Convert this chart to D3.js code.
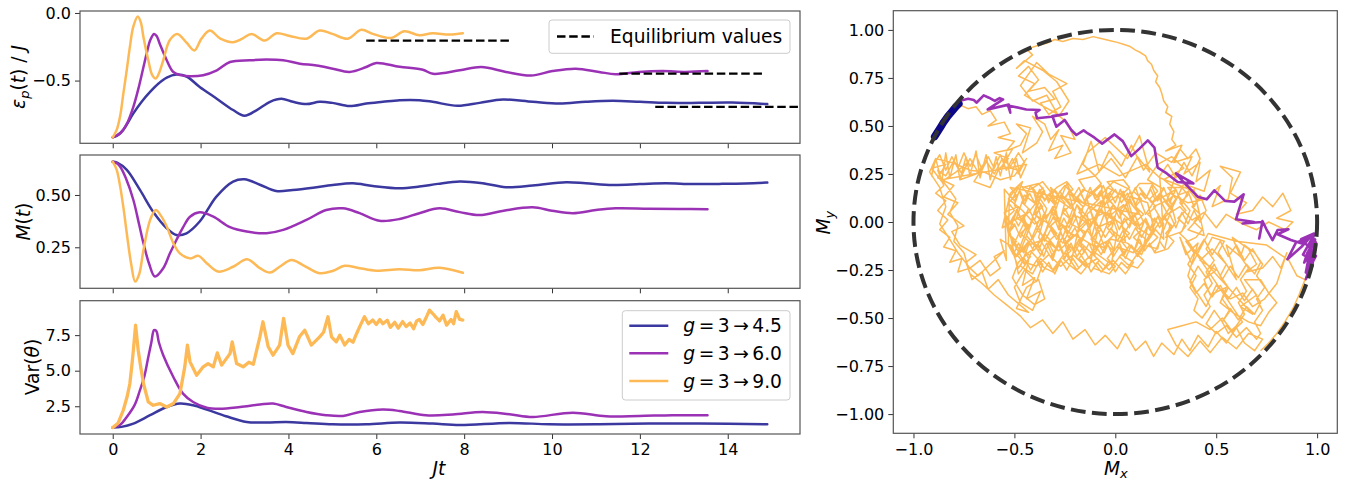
<!DOCTYPE html>
<html>
<head>
<meta charset="utf-8">
<script src="https://cdn.jsdelivr.net/npm/d3@7"></script>
<style>
  body { margin: 0; background: #fff; }
  text { font-family: "DejaVu Sans", sans-serif; fill: #000; }
</style>
</head>
<body>
<svg id="chart" width="1358" height="481"></svg>
<script>
// ---- data ----
const quenchLabels = ["4.5", "6.0", "9.0"];
const colours = ["#3b38a0", "#9b32b6", "#fdb955"];

// [Jt, eps_p/J]
const epsBlue = [[0,-0.92],[0.09,-0.91],[0.24,-0.865],[0.47,-0.743],[0.65,-0.66],[0.85,-0.584],[1.05,-0.52],[1.23,-0.478],[1.45,-0.456],[1.68,-0.47],[1.98,-0.547],[2.36,-0.632],[2.74,-0.718],[3.0,-0.76],[3.27,-0.72],[3.58,-0.657],[3.84,-0.635],[4.1,-0.657],[4.41,-0.674],[4.71,-0.657],[5.0,-0.665],[5.39,-0.689],[5.77,-0.67],[6.15,-0.657],[6.53,-0.645],[6.98,-0.645],[7.28,-0.657],[7.85,-0.687],[8.35,-0.665],[8.88,-0.64],[9.56,-0.657],[10.17,-0.67],[10.77,-0.657],[11.38,-0.65],[12.0,-0.657],[12.59,-0.665],[13.35,-0.665],[14.1,-0.663],[14.9,-0.674]];
const epsPurple = [[0,-0.92],[0.17,-0.89],[0.32,-0.82],[0.47,-0.694],[0.6,-0.54],[0.7,-0.40],[0.78,-0.29],[0.85,-0.204],[0.94,-0.155],[1.0,-0.17],[1.07,-0.228],[1.15,-0.29],[1.23,-0.35],[1.38,-0.437],[1.55,-0.46],[1.76,-0.468],[2.06,-0.46],[2.37,-0.424],[2.67,-0.363],[3.12,-0.35],[3.5,-0.345],[3.88,-0.35],[4.26,-0.375],[4.64,-0.388],[5.01,-0.412],[5.39,-0.436],[5.77,-0.40],[6.0,-0.37],[6.53,-0.398],[7.06,-0.42],[7.29,-0.45],[7.9,-0.424],[8.39,-0.40],[8.95,-0.436],[9.52,-0.463],[10.01,-0.43],[10.54,-0.412],[11.07,-0.436],[11.45,-0.453],[11.98,-0.436],[12.51,-0.43],[13.05,-0.436],[13.54,-0.43]];
const epsOrange = [[0,-0.92],[0.09,-0.865],[0.17,-0.76],[0.24,-0.6],[0.32,-0.42],[0.39,-0.253],[0.47,-0.10],[0.57,-0.027],[0.64,-0.07],[0.7,-0.18],[0.81,-0.35],[0.9,-0.46],[0.98,-0.485],[1.06,-0.44],[1.15,-0.35],[1.3,-0.2],[1.47,-0.155],[1.68,-0.22],[1.86,-0.277],[2.02,-0.19],[2.21,-0.13],[2.45,-0.19],[2.74,-0.216],[2.95,-0.19],[3.16,-0.155],[3.46,-0.204],[3.73,-0.15],[4.03,-0.17],[4.41,-0.19],[4.71,-0.13],[5.0,-0.155],[5.35,-0.19],[5.66,-0.125],[5.92,-0.155],[6.34,-0.185],[6.64,-0.135],[6.98,-0.165],[7.28,-0.15],[7.66,-0.16],[7.97,-0.15]];

// equilibrium values: [value, Jt start, Jt end]
const equilibrium = [[-0.694, 12.35, 16.0], [-0.449, 11.53, 14.79], [-0.204, 5.77, 9.07]];

// [Jt, M]
const magBlue = [[0,0.659],[0.1,0.655],[0.32,0.62],[0.62,0.524],[0.92,0.42],[1.23,0.341],[1.45,0.309],[1.68,0.317],[1.98,0.373],[2.36,0.492],[2.74,0.564],[3.0,0.575],[3.35,0.549],[3.72,0.519],[4.1,0.524],[4.56,0.535],[5.01,0.548],[5.47,0.556],[5.92,0.543],[6.53,0.532],[6.98,0.54],[7.4,0.553],[7.9,0.564],[8.42,0.556],[8.95,0.537],[9.56,0.545],[10.32,0.561],[10.77,0.556],[11.38,0.548],[12.0,0.552],[12.59,0.556],[13.2,0.552],[13.8,0.553],[14.4,0.555],[14.9,0.559]];
const magPurple = [[0,0.659],[0.1,0.65],[0.17,0.635],[0.3,0.58],[0.47,0.476],[0.6,0.36],[0.7,0.269],[0.83,0.17],[0.96,0.11],[1.15,0.15],[1.3,0.22],[1.45,0.285],[1.6,0.345],[1.76,0.396],[1.98,0.417],[2.29,0.396],[2.67,0.346],[3.05,0.325],[3.5,0.317],[3.88,0.333],[4.41,0.381],[4.86,0.428],[5.24,0.436],[5.62,0.413],[6.07,0.377],[6.53,0.385],[6.98,0.413],[7.44,0.436],[7.9,0.418],[8.35,0.404],[8.9,0.425],[9.56,0.441],[10.0,0.425],[10.47,0.413],[11.0,0.428],[11.45,0.436],[12.2,0.434],[12.9,0.433],[13.54,0.432]];
const magOrange = [[0,0.659],[0.09,0.62],[0.17,0.54],[0.25,0.43],[0.32,0.317],[0.42,0.17],[0.51,0.086],[0.6,0.12],[0.7,0.237],[0.85,0.38],[0.98,0.428],[1.1,0.40],[1.23,0.349],[1.38,0.27],[1.53,0.221],[1.76,0.197],[1.95,0.209],[2.14,0.174],[2.4,0.134],[2.74,0.157],[3.06,0.193],[3.35,0.15],[3.58,0.129],[3.8,0.157],[4.07,0.189],[4.33,0.165],[4.71,0.126],[5.02,0.138],[5.28,0.162],[5.62,0.15],[6.0,0.138],[6.53,0.145],[6.98,0.14],[7.44,0.152],[7.97,0.128]];

// [Jt, Var(theta)]
const varBlue = [[0,1.0],[0.2,1.05],[0.47,1.28],[0.85,1.87],[1.23,2.45],[1.53,2.69],[1.83,2.57],[2.14,2.27],[2.58,1.8],[3.05,1.39],[3.5,1.36],[3.95,1.39],[4.41,1.33],[5.0,1.23],[5.77,1.23],[6.53,1.36],[7.28,1.28],[7.9,1.18],[9.03,1.33],[9.94,1.23],[11.07,1.23],[12.2,1.28],[13.35,1.28],[14.9,1.23]];
const varPurple = [[0,1.0],[0.17,1.2],[0.32,1.75],[0.5,2.6],[0.62,3.63],[0.72,4.6],[0.81,5.97],[0.88,7.0],[0.94,7.85],[0.99,7.8],[1.05,7.0],[1.15,6.09],[1.38,4.56],[1.6,3.39],[1.83,2.8],[2.14,2.4],[2.44,2.33],[2.9,2.45],[3.35,2.62],[3.65,2.69],[3.95,2.45],[4.41,2.1],[4.86,1.87],[5.24,1.82],[5.62,2.1],[6.15,2.27],[6.53,2.17],[7.13,1.87],[7.74,1.92],[8.42,2.1],[9.03,1.94],[9.56,1.75],[10.47,2.05],[11.23,1.8],[11.98,1.82],[12.74,1.87],[13.54,1.87]];
const varOrange = [[0,1.0],[0.12,1.3],[0.24,2.22],[0.33,3.2],[0.39,4.1],[0.44,5.5],[0.47,6.44],[0.52,8.2],[0.58,6.44],[0.64,5.2],[0.7,4.1],[0.81,2.8],[0.92,2.57],[1.07,2.69],[1.23,2.45],[1.38,2.69],[1.53,3.39],[1.64,5.27],[1.7,6.8],[1.76,5.62],[1.91,4.68],[2.06,5.27],[2.17,5.5],[2.29,5.27],[2.38,6.25],[2.48,5.39],[2.67,6.2],[2.72,7.03],[2.82,5.5],[2.97,5.27],[3.1,5.6],[3.2,5.45],[3.35,7.38],[3.42,8.44],[3.54,6.68],[3.65,6.09],[3.8,6.8],[3.89,8.68],[3.99,6.8],[4.1,6.2],[4.25,7.38],[4.37,7.85],[4.45,7.3],[4.52,6.8],[4.62,7.1],[4.71,7.38],[4.8,7.7],[4.9,8.79],[4.98,7.38],[5.09,7.03],[5.17,7.5],[5.28,6.8],[5.38,7.2],[5.47,7.0],[5.55,7.6],[5.62,8.08],[5.73,8.79],[5.82,8.3],[5.92,8.56],[6.0,8.25],[6.08,8.6],[6.15,8.3],[6.25,8.55],[6.32,8.05],[6.42,8.4],[6.5,8.0],[6.6,8.45],[6.68,8.1],[6.77,8.35],[6.85,7.95],[6.92,8.5],[6.98,8.6],[7.06,8.25],[7.13,8.7],[7.21,9.26],[7.29,9.0],[7.36,8.75],[7.44,8.5],[7.52,8.9],[7.6,8.2],[7.7,8.6],[7.76,8.3],[7.82,9.15],[7.9,8.6],[7.97,8.56]];

// right panel: [Mx, My]
const trajBlue = [[-0.895,0.445],[-0.88,0.47],[-0.865,0.495],[-0.85,0.52],[-0.83,0.55],[-0.81,0.575],[-0.79,0.60],[-0.775,0.615]];
const trajPurple = [[-0.774,0.63],[-0.729,0.642],[-0.701,0.635],[-0.688,0.621],[-0.652,0.659],[-0.626,0.647],[-0.597,0.63],[-0.573,0.645],[-0.556,0.638],[-0.632,0.586],[-0.528,0.611],[-0.52,0.569],[-0.532,0.607],[-0.441,0.586],[-0.375,0.583],[-0.395,0.569],[-0.388,0.54],[-0.317,0.548],[-0.24,0.564],[-0.312,0.552],[-0.292,0.496],[-0.251,0.531],[-0.218,0.479],[-0.193,0.453],[-0.157,0.477],[-0.136,0.461],[-0.103,0.439],[-0.065,0.408],[-0.004,0.456],[0.037,0.421],[0.079,0.343],[0.12,0.382],[0.161,0.425],[0.194,0.387],[0.21,0.283],[0.255,0.253],[0.309,0.208],[0.387,0.201],[0.301,0.253],[0.334,0.213],[0.408,0.132],[0.453,0.118],[0.491,0.165],[0.545,0.109],[0.59,0.106],[0.636,0.144],[0.598,0.014],[0.688,0.0],[0.631,-0.008],[0.729,0.0],[0.713,-0.086],[0.729,0.005],[0.749,-0.038],[0.779,-0.094],[0.804,-0.042],[0.858,-0.038],[0.804,-0.064],[0.87,-0.094],[0.936,-0.116],[0.96,-0.086],[0.895,-0.107],[0.853,-0.194],[0.927,-0.125],[0.969,-0.073],[0.994,-0.107],[0.957,-0.151],[0.99,-0.09],[0.977,-0.229],[0.944,-0.298],[0.96,-0.246],[0.994,-0.177],[0.952,-0.159],[0.936,-0.211],[0.994,-0.125],[0.944,-0.263],[0.977,-0.081],[0.93,-0.17],[0.98,-0.20],[0.95,-0.28],[0.97,-0.14],[0.92,-0.09],[0.985,-0.06],[0.96,-0.19]];

const orangeStart = [[-0.77,0.61],[-0.73,0.59],[-0.69,0.60],[-0.66,0.56],[-0.62,0.58],[-0.59,0.53],[-0.63,0.50],[-0.55,0.52],[-0.52,0.46],[-0.58,0.44],[-0.50,0.42],[-0.54,0.37],[-0.47,0.40],[-0.44,0.46],[-0.49,0.51],[-0.42,0.49],[-0.46,0.36],[-0.39,0.41],[-0.36,0.47],[-0.41,0.55],[-0.35,0.51],[-0.32,0.43],[-0.28,0.48],[-0.33,0.37],[-0.26,0.40],[-0.30,0.33],[-0.22,0.36],[-0.27,0.45],[-0.20,0.43],[-0.24,0.52],[-0.30,0.57]];
const orangeLoop = [[-0.37,0.61],[-0.45,0.66],[-0.40,0.72],[-0.48,0.76],[-0.43,0.81],[-0.38,0.74],[-0.43,0.68],[-0.35,0.70],[-0.30,0.64],[-0.37,0.62],[-0.33,0.56],[-0.27,0.60],[-0.31,0.68],[-0.24,0.72],[-0.33,0.77],[-0.39,0.83],[-0.43,0.77],[-0.47,0.71],[-0.41,0.63],[-0.34,0.66],[-0.28,0.55],[-0.23,0.63],[-0.29,0.73],[-0.36,0.79],[-0.45,0.84],[-0.49,0.80],[-0.41,0.87],[-0.44,0.90],[-0.38,0.92],[-0.34,0.93],[-0.30,0.95],[-0.26,0.94],[-0.21,0.955],[-0.16,0.95],[-0.11,0.965],[-0.07,0.955],[-0.03,0.945],[0.01,0.935],[0.04,0.925],[0.07,0.915],[0.10,0.895],[0.12,0.885],[0.15,0.865],[0.16,0.84],[0.18,0.82],[0.19,0.79],[0.21,0.76],[0.20,0.73],[0.22,0.70],[0.23,0.67],[0.24,0.63],[0.26,0.60],[0.25,0.57],[0.28,0.55],[0.27,0.51],[0.29,0.47],[0.28,0.43],[0.30,0.40]];
const orangeRight = [[0.25,0.37],[0.33,0.40],[0.29,0.31],[0.38,0.34],[0.34,0.25],[0.42,0.31],[0.40,0.21],[0.47,0.27],[0.44,0.16],[0.36,0.19],[0.30,0.25],[0.27,0.15],[0.36,0.10],[0.45,0.12],[0.52,0.19],[0.48,0.08],[0.56,0.12],[0.58,0.23],[0.52,0.29],[0.62,0.26],[0.57,0.15],[0.65,0.10],[0.60,0.04],[0.68,0.06],[0.73,0.13],[0.78,0.08],[0.83,0.15],[0.87,0.06],[0.80,0.02],[0.88,0.00],[0.84,-0.04],[0.76,0.00],[0.70,-0.04],[0.63,-0.01],[0.55,0.04],[0.50,-0.03],[0.44,0.05],[0.38,0.01],[0.32,0.08],[0.26,0.04],[0.22,0.12],[0.30,0.17],[0.24,0.22],[0.34,0.28],[0.28,0.34],[0.21,0.30],[0.16,0.22],[0.24,0.17],[0.18,0.10]];
const orangeRight2 = [[0.12,0.18],[0.15,0.12],[0.18,0.19],[0.21,0.11],[0.24,0.18],[0.27,0.10],[0.30,0.17],[0.33,0.09],[0.36,0.16],[0.39,0.08],[0.42,0.14],[0.45,0.06],[0.42,0.00],[0.39,0.06],[0.36,-0.01],[0.33,0.05],[0.30,-0.03],[0.27,0.04],[0.24,-0.04],[0.21,0.03],[0.18,-0.05],[0.15,0.02],[0.12,-0.06],[0.16,-0.10],[0.20,-0.04],[0.24,-0.09],[0.22,0.24],[0.26,0.30],[0.30,0.23],[0.34,0.31],[0.38,0.24],[0.42,0.33],[0.40,0.38],[0.36,0.33],[0.32,0.38],[0.28,0.31]];
const orangeUpper = [[0.20,0.36],[0.14,0.27],[0.08,0.40],[0.03,0.29],[-0.03,0.37],[-0.08,0.26],[-0.12,0.42],[-0.16,0.30],[-0.10,0.24],[-0.02,0.33],[0.05,0.23],[0.11,0.34],[0.17,0.26],[0.12,0.45],[0.06,0.33],[-0.05,0.44],[-0.14,0.36],[-0.19,0.25],[-0.08,0.30],[0.02,0.24],[0.15,0.30],[0.22,0.23]];
const orangeColumns = [[0.39,0.16],[0.42,0.12],[0.38,0.08],[0.42,0.04],[0.39,0.00],[0.43,-0.04],[0.40,-0.08],[0.36,-0.10],[0.32,-0.06],[0.35,-0.02],[0.31,0.02],[0.35,0.06],[0.32,0.10],[0.36,0.14],[0.33,0.18],[0.26,0.18],[0.29,0.14],[0.25,0.10],[0.28,0.06],[0.24,0.02],[0.28,-0.02],[0.25,-0.06],[0.29,-0.10],[0.26,-0.14],[0.20,-0.16],[0.17,-0.12],[0.21,-0.08],[0.17,-0.04],[0.20,0.00],[0.16,0.04],[0.20,0.08],[0.17,0.12],[0.21,0.16],[0.18,0.20],[0.12,0.20],[0.09,0.16],[0.13,0.12],[0.10,0.08],[0.14,0.04],[0.10,0.00],[0.13,-0.04],[0.09,-0.08],[0.13,-0.12],[0.10,-0.16],[0.14,-0.20],[0.11,-0.24],[0.06,-0.22],[0.02,-0.18],[0.06,-0.14],[0.03,-0.10],[0.07,-0.06],[0.03,-0.02],[0.06,0.02],[0.02,0.06],[0.06,0.10],[0.03,0.14],[0.07,0.18],[0.04,0.22],[-0.04,0.21],[-0.01,0.17],[-0.05,0.13],[-0.01,0.09],[-0.04,0.05],[0.00,0.01],[-0.04,-0.03],[-0.01,-0.07],[-0.05,-0.11],[-0.01,-0.15],[-0.04,-0.19],[0.00,-0.23],[-0.03,-0.27],[-0.11,-0.24],[-0.08,-0.20],[-0.12,-0.16],[-0.08,-0.12],[-0.11,-0.08],[-0.07,-0.04],[-0.11,0.00],[-0.08,0.04],[-0.12,0.08],[-0.08,0.12],[-0.11,0.16],[-0.07,0.20],[-0.10,0.24],[-0.18,0.22],[-0.15,0.17],[-0.19,0.13],[-0.15,0.09],[-0.18,0.05],[-0.14,0.01],[-0.18,-0.03],[-0.15,-0.07],[-0.19,-0.11],[-0.15,-0.15],[-0.18,-0.19],[-0.14,-0.23],[-0.17,-0.27],[-0.22,-0.23],[-0.26,-0.19],[-0.22,-0.15],[-0.25,-0.11],[-0.21,-0.07],[-0.25,-0.03],[-0.22,0.01],[-0.26,0.05],[-0.22,0.09],[-0.25,0.13],[-0.21,0.17],[-0.24,0.21],[-0.29,0.18],[-0.33,0.14],[-0.29,0.10],[-0.32,0.06],[-0.28,0.02],[-0.32,-0.02],[-0.29,-0.06],[-0.33,-0.10],[-0.29,-0.14],[-0.32,-0.18],[-0.28,-0.22],[-0.31,-0.26],[-0.35,-0.24],[-0.39,-0.20],[-0.36,-0.16],[-0.39,-0.12],[-0.35,-0.08],[-0.39,-0.04],[-0.36,0.00],[-0.40,0.04],[-0.36,0.08],[-0.39,0.12],[-0.35,0.16],[-0.38,0.20],[-0.46,0.18],[-0.43,0.14],[-0.46,0.10],[-0.42,0.06],[-0.46,0.02],[-0.43,-0.02],[-0.47,-0.06],[-0.43,-0.10],[-0.46,-0.14],[-0.42,-0.18],[-0.45,-0.22],[-0.48,-0.18],[-0.52,-0.14],[-0.49,-0.10],[-0.53,-0.06],[-0.50,-0.02],[-0.54,0.02],[-0.50,0.06],[-0.53,0.10],[-0.49,0.14],[-0.52,0.18]];
const orangeCentre = [[0.12,0.04],[0.06,0.12],[0.10,-0.02],[0.02,0.06],[0.05,-0.10],[-0.02,-0.04],[0.03,0.14],[-0.04,0.18],[-0.07,0.06],[-0.01,0.01],[-0.09,-0.03],[-0.05,-0.14],[-0.12,-0.09],[-0.07,0.11],[-0.14,0.04],[-0.10,-0.18],[-0.17,-0.11],[-0.12,0.00],[-0.19,0.09],[-0.22,-0.01],[-0.15,-0.05],[-0.20,-0.16],[-0.26,-0.08],[-0.21,0.07],[-0.27,0.14],[-0.31,0.02],[-0.24,-0.03],[-0.29,-0.14],[-0.35,-0.06],[-0.30,0.09],[-0.36,0.16],[-0.40,0.04],[-0.33,-0.01],[-0.38,-0.15],[-0.44,-0.07],[-0.39,0.09],[-0.45,0.14],[-0.49,0.02],[-0.42,-0.02],[-0.47,-0.15],[-0.53,-0.06],[-0.48,0.08],[-0.55,0.05],[-0.51,-0.10],[-0.45,-0.21],[-0.39,-0.23],[-0.33,-0.17],[-0.27,-0.23],[-0.21,-0.17],[-0.15,-0.23],[-0.09,-0.19],[-0.03,-0.25],[0.03,-0.17],[0.09,-0.21],[0.05,-0.27],[-0.01,-0.20],[-0.07,-0.26],[-0.13,-0.18],[-0.19,-0.25],[-0.25,-0.16],[-0.31,-0.25],[-0.37,-0.19],[-0.41,-0.27],[-0.47,-0.23],[-0.43,-0.12],[-0.35,-0.09],[-0.28,-0.15],[-0.20,-0.07],[-0.13,0.01],[-0.05,0.05],[0.03,-0.01],[0.11,0.05],[0.07,0.17],[-0.01,0.21],[-0.08,0.13],[-0.16,0.17],[-0.22,0.07],[-0.30,0.13],[-0.36,0.21],[-0.42,0.17],[-0.48,0.19],[-0.53,0.12],[-0.46,0.06],[-0.40,-0.01],[-0.32,0.05],[-0.24,-0.05],[-0.16,-0.09],[-0.10,-0.13],[-0.02,-0.09],[0.06,-0.11],[0.13,-0.17],[0.17,-0.07],[0.11,-0.03],[0.04,0.09],[-0.03,0.03],[-0.11,0.07],[-0.18,0.11],[-0.25,0.19],[-0.31,0.11],[-0.37,0.13],[-0.43,0.05],[-0.50,0.01],[-0.56,-0.03],[-0.52,0.15],[-0.46,0.21],[-0.50,0.09],[-0.44,-0.04],[-0.49,-0.18],[-0.42,-0.10],[-0.37,0.03],[-0.41,0.18],[-0.34,0.07],[-0.38,-0.08],[-0.31,-0.20],[-0.27,-0.05],[-0.32,0.18],[-0.25,0.10],[-0.28,-0.02],[-0.22,-0.21],[-0.18,-0.03],[-0.23,0.15],[-0.16,0.08],[-0.20,-0.12],[-0.13,-0.24],[-0.09,-0.06],[-0.14,0.12],[-0.07,0.19],[-0.04,-0.01],[-0.10,-0.16],[-0.02,-0.22],[0.01,-0.05],[-0.04,0.10],[0.04,0.16],[0.08,0.01],[0.01,-0.13],[0.09,-0.16],[0.14,0.00],[0.08,0.13],[0.16,0.10],[0.19,-0.03],[0.14,-0.12],[0.21,-0.14],[0.24,-0.01],[0.19,0.08],[0.27,0.12],[0.30,0.00],[0.25,-0.08],[0.33,-0.05],[0.37,0.06],[0.31,0.14],[0.39,0.17],[0.42,0.03],[0.36,-0.04],[0.44,-0.07],[0.40,0.12],[0.34,0.20],[0.28,0.07],[0.22,0.15],[0.15,0.04],[0.10,0.18],[0.03,0.04],[-0.05,0.14],[-0.12,-0.02],[-0.19,0.03],[-0.26,-0.11],[-0.33,-0.02],[-0.39,-0.13],[-0.45,0.00],[-0.51,-0.13],[-0.57,-0.09],[-0.54,-0.20]];
const orangeCentre2 = [[-0.55,0.17],[-0.51,0.12],[-0.48,0.18],[-0.45,0.11],[-0.42,0.19],[-0.39,0.13],[-0.36,0.18],[-0.33,0.10],[-0.30,0.17],[-0.27,0.12],[-0.24,0.20],[-0.21,0.13],[-0.18,0.18],[-0.15,0.10],[-0.12,0.16],[-0.09,0.11],[-0.06,0.19],[-0.03,0.12],[0.00,0.17],[0.03,0.10],[0.06,0.15],[0.09,0.08],[0.12,0.06],[0.08,0.01],[0.05,0.08],[0.02,0.02],[-0.01,0.09],[-0.04,0.01],[-0.07,0.07],[-0.10,0.00],[-0.13,0.08],[-0.16,0.02],[-0.19,0.09],[-0.22,0.01],[-0.25,0.07],[-0.28,0.00],[-0.31,0.08],[-0.34,0.02],[-0.37,0.09],[-0.40,0.01],[-0.43,0.07],[-0.46,0.00],[-0.49,0.06],[-0.52,-0.01],[-0.55,0.05],[-0.53,-0.06],[-0.50,-0.01],[-0.47,-0.08],[-0.44,-0.02],[-0.41,-0.09],[-0.38,-0.03],[-0.35,-0.10],[-0.32,-0.04],[-0.29,-0.09],[-0.26,-0.02],[-0.23,-0.08],[-0.20,-0.03],[-0.17,-0.10],[-0.14,-0.04],[-0.11,-0.09],[-0.08,-0.02],[-0.05,-0.08],[-0.02,-0.03],[0.01,-0.10],[0.04,-0.04],[0.07,-0.09],[0.10,-0.03],[0.13,-0.08],[0.16,-0.02],[0.14,-0.13],[0.11,-0.18],[0.08,-0.12],[0.05,-0.19],[0.02,-0.13],[-0.01,-0.18],[-0.04,-0.11],[-0.07,-0.17],[-0.10,-0.12],[-0.13,-0.19],[-0.16,-0.13],[-0.19,-0.18],[-0.22,-0.11],[-0.25,-0.19],[-0.28,-0.12],[-0.31,-0.18],[-0.34,-0.11],[-0.37,-0.17],[-0.40,-0.12],[-0.43,-0.19],[-0.46,-0.13],[-0.49,-0.18],[-0.52,-0.12],[-0.48,-0.24],[-0.45,-0.19],[-0.42,-0.25],[-0.39,-0.20],[-0.36,-0.26],[-0.33,-0.21],[-0.30,-0.27],[-0.27,-0.20],[-0.24,-0.25],[-0.21,-0.19],[-0.18,-0.24],[-0.15,-0.20],[-0.12,-0.26],[-0.09,-0.21],[-0.06,-0.25],[-0.03,-0.20],[0.00,-0.26],[0.03,-0.21],[0.06,-0.24]];
const orangeCentre3 = [[0.30,0.12],[0.275,0.16],[0.25,0.10],[0.225,0.15],[0.20,0.11],[0.175,0.17],[0.15,0.12],[0.125,0.15],[0.10,0.09],[0.075,0.16],[0.05,0.11],[0.025,0.17],[0.0,0.10],[-0.025,0.15],[-0.05,0.09],[-0.075,0.16],[-0.10,0.12],[-0.125,0.18],[-0.15,0.11],[-0.175,0.15],[-0.20,0.10],[-0.225,0.17],[-0.25,0.12],[-0.275,0.16],[-0.30,0.09],[-0.325,0.15],[-0.35,0.11],[-0.375,0.17],[-0.40,0.10],[-0.425,0.15],[-0.45,0.09],[-0.475,0.16],[-0.50,0.11],[-0.525,0.14],[-0.53,-0.12],[-0.505,-0.17],[-0.48,-0.11],[-0.455,-0.16],[-0.43,-0.10],[-0.405,-0.15],[-0.38,-0.12],[-0.355,-0.18],[-0.33,-0.11],[-0.305,-0.16],[-0.28,-0.10],[-0.255,-0.17],[-0.23,-0.12],[-0.205,-0.15],[-0.18,-0.09],[-0.155,-0.16],[-0.13,-0.11],[-0.105,-0.17],[-0.08,-0.12],[-0.055,-0.16],[-0.03,-0.10],[-0.005,-0.15],[0.02,-0.11],[0.045,-0.17],[0.07,-0.12],[0.095,-0.15],[0.12,-0.09],[0.145,-0.15],[0.17,-0.11],[0.195,-0.16],[0.22,-0.10],[0.245,-0.14],[0.27,-0.02],[0.245,0.03],[0.22,-0.03],[0.195,0.02],[0.17,-0.04],[0.145,0.01],[0.12,-0.02],[0.095,0.04],[0.07,-0.03],[0.045,0.02],[0.02,-0.04],[-0.005,0.03],[-0.03,-0.02],[-0.055,0.04],[-0.08,-0.03],[-0.105,0.02],[-0.13,-0.04],[-0.155,0.03],[-0.18,-0.02],[-0.205,0.04],[-0.23,-0.03],[-0.255,0.02],[-0.28,-0.04],[-0.305,0.03],[-0.33,-0.02],[-0.355,0.04],[-0.38,-0.03],[-0.405,0.02],[-0.43,-0.04],[-0.455,0.03],[-0.48,-0.02],[-0.505,0.03],[-0.53,-0.02]];
const orangeLowerLeft = [[-0.48,-0.27],[-0.43,-0.20],[-0.46,-0.33],[-0.40,-0.29],[-0.44,-0.40],[-0.37,-0.36],[-0.41,-0.46],[-0.47,-0.42],[-0.50,-0.34],[-0.45,-0.25],[-0.39,-0.31],[-0.36,-0.22],[-0.42,-0.15],[-0.48,-0.21],[-0.51,-0.29],[-0.46,-0.38],[-0.40,-0.43],[-0.35,-0.40],[-0.38,-0.30],[-0.44,-0.34],[-0.49,-0.45],[-0.43,-0.47]];
const orangeLeft = [[-0.53,-0.38],[-0.58,-0.30],[-0.63,-0.35],[-0.66,-0.26],[-0.71,-0.30],[-0.74,-0.21],[-0.69,-0.17],[-0.77,-0.12],[-0.81,-0.05],[-0.75,-0.02],[-0.83,0.04],[-0.78,0.10],[-0.85,0.13],[-0.80,0.19],[-0.88,0.23],[-0.84,0.30],[-0.91,0.28],[-0.86,0.21],[-0.79,0.26],[-0.73,0.31],[-0.77,0.22],[-0.69,0.25],[-0.64,0.31],[-0.70,0.21],[-0.62,0.18],[-0.58,0.27],[-0.53,0.33],[-0.60,0.36],[-0.51,0.38],[-0.56,0.29],[-0.48,0.27],[-0.44,0.33],[-0.50,0.24],[-0.57,0.22],[-0.65,0.26],[-0.72,0.27],[-0.81,0.31],[-0.89,0.33],[-0.92,0.26],[-0.87,0.18],[-0.84,0.08],[-0.87,-0.01],[-0.82,-0.09],[-0.78,-0.16],[-0.72,-0.24],[-0.67,-0.20],[-0.62,-0.28],[-0.57,-0.24],[-0.60,-0.18],[-0.55,-0.15]];
const orangeLeft2 = [[-0.62,-0.22],[-0.68,-0.28],[-0.72,-0.24],[-0.78,-0.26],[-0.76,-0.19],[-0.82,-0.21],[-0.79,-0.15],[-0.85,-0.13],[-0.82,-0.08],[-0.87,-0.04],[-0.83,0.01],[-0.88,0.06],[-0.84,0.11],[-0.89,0.15],[-0.85,0.19],[-0.88,0.27],[-0.84,0.24],[-0.80,0.32],[-0.76,0.25],[-0.72,0.33],[-0.68,0.26],[-0.64,0.32],[-0.60,0.25],[-0.56,0.33],[-0.52,0.29],[-0.48,0.36],[-0.45,0.31],[-0.48,0.25],[-0.51,0.33],[-0.54,0.27],[-0.57,0.35],[-0.60,0.28],[-0.63,0.34],[-0.66,0.27],[-0.69,0.35],[-0.72,0.29],[-0.75,0.36],[-0.78,0.28],[-0.81,0.34],[-0.84,0.27],[-0.87,0.35],[-0.90,0.30],[-0.91,0.24],[-0.89,0.33],[-0.86,0.21],[-0.84,0.36],[-0.82,0.23],[-0.79,0.35],[-0.77,0.22],[-0.74,0.34],[-0.72,0.24],[-0.69,0.37],[-0.67,0.23],[-0.64,0.35],[-0.62,0.22],[-0.59,0.34],[-0.57,0.24],[-0.54,0.36],[-0.52,0.22],[-0.49,0.33],[-0.47,0.23],[-0.44,0.30],[-0.86,0.22],[-0.83,0.18],[-0.79,0.12],[-0.82,0.05],[-0.78,-0.02],[-0.80,-0.10],[-0.75,-0.16],[-0.72,-0.27],[-0.66,-0.32],[-0.60,-0.38],[-0.54,-0.43]];
const orangeBottom = [[-0.47,-0.49],[-0.42,-0.55],[-0.36,-0.51],[-0.31,-0.58],[-0.26,-0.52],[-0.21,-0.61],[-0.15,-0.56],[-0.10,-0.64],[-0.05,-0.59],[0.01,-0.66],[0.05,-0.58],[0.10,-0.67],[0.15,-0.62],[0.19,-0.70],[0.23,-0.63],[0.29,-0.69],[0.33,-0.61],[0.37,-0.67],[0.41,-0.59],[0.46,-0.65],[0.50,-0.57],[0.55,-0.63],[0.60,-0.55],[0.64,-0.63],[0.69,-0.67],[0.73,-0.61],[0.66,-0.58],[0.60,-0.66],[0.53,-0.60],[0.47,-0.68],[0.42,-0.62],[0.36,-0.70],[0.30,-0.64],[0.26,-0.56],[0.33,-0.54],[0.40,-0.52],[0.47,-0.56],[0.53,-0.50],[0.58,-0.57],[0.63,-0.52]];
const orangeLowerRight2 = [[0.36,-0.10],[0.40,-0.16],[0.44,-0.09],[0.48,-0.17],[0.52,-0.10],[0.56,-0.18],[0.60,-0.12],[0.64,-0.20],[0.68,-0.14],[0.72,-0.21],[0.69,-0.27],[0.65,-0.22],[0.61,-0.29],[0.57,-0.23],[0.53,-0.30],[0.49,-0.22],[0.45,-0.29],[0.41,-0.23],[0.37,-0.31],[0.40,-0.37],[0.44,-0.32],[0.48,-0.39],[0.52,-0.33],[0.56,-0.40],[0.60,-0.34],[0.64,-0.41],[0.68,-0.35],[0.72,-0.42],[0.69,-0.48],[0.65,-0.44],[0.61,-0.51],[0.57,-0.45],[0.53,-0.52],[0.49,-0.46],[0.45,-0.53],[0.50,-0.58],[0.55,-0.54],[0.60,-0.60],[0.65,-0.55],[0.70,-0.61],[0.72,-0.58],[0.69,-0.52],[0.73,-0.46],[0.70,-0.40],[0.74,-0.34],[0.70,-0.28],[0.73,-0.22],[0.69,-0.16],[0.64,-0.12],[0.62,-0.18],[0.66,-0.24],[0.62,-0.30],[0.65,-0.36],[0.61,-0.42],[0.64,-0.48],[0.60,-0.54],[0.56,-0.58],[0.53,-0.52],[0.57,-0.46],[0.53,-0.40],[0.56,-0.34],[0.52,-0.28],[0.55,-0.22],[0.51,-0.16],[0.54,-0.10],[0.48,-0.08],[0.45,-0.14],[0.49,-0.20],[0.45,-0.26],[0.48,-0.32],[0.44,-0.38],[0.47,-0.44],[0.43,-0.50],[0.39,-0.46],[0.41,-0.40],[0.37,-0.34],[0.40,-0.28],[0.36,-0.22],[0.39,-0.16],[0.35,-0.10]];
const orangeLowerRight = [[0.68,-0.48],[0.62,-0.44],[0.70,-0.38],[0.64,-0.30],[0.72,-0.30],[0.76,-0.37],[0.80,-0.42],[0.76,-0.47],[0.72,-0.54],[0.66,-0.52],[0.58,-0.47],[0.52,-0.42],[0.55,-0.34],[0.47,-0.38],[0.44,-0.30],[0.50,-0.25],[0.42,-0.20],[0.48,-0.14],[0.55,-0.22],[0.60,-0.30],[0.55,-0.12],[0.62,-0.18],[0.58,-0.08],[0.66,-0.14],[0.70,-0.22],[0.65,-0.26],[0.73,-0.24],[0.78,-0.18],[0.82,-0.24],[0.85,-0.16],[0.80,-0.32],[0.74,-0.40],[0.68,-0.44],[0.63,-0.37],[0.57,-0.40],[0.50,-0.33],[0.45,-0.44],[0.40,-0.36],[0.36,-0.28],[0.41,-0.11],[0.35,-0.17],[0.32,-0.08],[0.38,-0.22],[0.46,-0.06],[0.60,-0.10],[0.75,-0.12],[0.86,-0.20]];
const orangeStrand = [[0.90,-0.28],[0.94,-0.30],[0.91,-0.38],[0.88,-0.45],[0.84,-0.52],[0.80,-0.58],[0.76,-0.63],[0.72,-0.67]];

const xTicks = [0, 2, 4, 6, 8, 10, 12, 14];
const mxTicks = [-1, -0.5, 0, 0.5, 1];
const myTicks = [-1, -0.75, -0.5, -0.25, 0, 0.25, 0.5, 0.75, 1];

// ---- drawing ----
const svg = d3.select("#chart");
const fmt1 = d3.format(".1f"), fmt2 = d3.format(".2f");
const labelSize = 18.67, subSize = 13;

const x = d3.scaleLinear().domain([-0.745, 15.645]).range([80, 800]);

const panels = [
  { top: 11, bottom: 143.3, domain: [-0.964, 0.0145], ticks: [-0.5, 0], fmt: fmt1,
    series: [epsBlue, epsPurple, epsOrange], widths: [2.5, 2.5, 2.5] },
  { top: 155, bottom: 288.3, domain: [0.054, 0.691], ticks: [0.25, 0.5], fmt: fmt2,
    series: [magBlue, magPurple, magOrange], widths: [2.5, 2.5, 2.5] },
  { top: 300.7, bottom: 434, domain: [0.55, 9.92], ticks: [2.5, 5, 7.5], fmt: fmt1,
    series: [varBlue, varPurple, varOrange], widths: [2.5, 2.5, 3.3] }
];

function styleAxis(g) {
  g.select(".domain").remove();
  g.selectAll(".tick line").attr("stroke", "#333").attr("stroke-width", 1);
  g.selectAll(".tick text").attr("font-size", 16).attr("fill", "#000")
    .attr("font-family", "DejaVu Sans, sans-serif");
}

panels.forEach((p, i) => {
  const y = d3.scaleLinear().domain(p.domain).range([p.bottom, p.top]);
  const g = svg.append("g");

  g.append("g").attr("transform", `translate(80,0)`)
    .call(d3.axisLeft(y).tickValues(p.ticks).tickFormat(p.fmt).tickSize(5).tickPadding(4))
    .call(styleAxis);

  const xa = d3.axisBottom(x).tickValues(xTicks).tickSize(5).tickPadding(5);
  if (i < 2) xa.tickFormat("");
  g.append("g").attr("transform", `translate(0,${p.bottom})`).call(xa).call(styleAxis);

  const clipId = "clip" + i;
  svg.append("clipPath").attr("id", clipId).append("rect")
    .attr("x", 80).attr("y", p.top).attr("width", 720).attr("height", p.bottom - p.top);

  const plot = g.append("g").attr("clip-path", `url(#${clipId})`);
  const smooth = d3.line().x(d => x(d[0])).y(d => y(d[1])).curve(d3.curveCatmullRom.alpha(0.5));
  const sharp = d3.line().x(d => x(d[0])).y(d => y(d[1]));
  p.series.forEach((s, k) => {
    const l = (i === 2 && k === 2) ? sharp : smooth;
    plot.append("path").attr("d", l(s)).attr("fill", "none")
      .attr("stroke", colours[k]).attr("stroke-width", p.widths[k])
      .attr("stroke-linejoin", "round").attr("stroke-linecap", "round");
  });

  if (i === 0) {
    equilibrium.forEach(e => {
      plot.append("line")
        .attr("x1", x(e[1])).attr("x2", x(e[2]))
        .attr("y1", y(e[0])).attr("y2", y(e[0]))
        .attr("stroke", "#000").attr("stroke-width", 2.3)
        .attr("stroke-dasharray", "8.5,3.7");
    });
  }

  g.append("rect").attr("x", 80).attr("y", p.top).attr("width", 720)
    .attr("height", p.bottom - p.top).attr("fill", "none")
    .attr("stroke", "#555").attr("stroke-width", 1.2);
});

// y labels of the left column
const lab1 = svg.append("text").attr("transform", "translate(25,77) rotate(-90)")
  .attr("text-anchor", "middle").attr("font-size", labelSize);
lab1.append("tspan").attr("font-style", "italic").text("ε");
lab1.append("tspan").attr("font-style", "italic").attr("font-size", subSize).attr("dy", 4).text("p");
lab1.append("tspan").attr("dy", -4).text("(");
lab1.append("tspan").attr("font-style", "italic").text("t");
lab1.append("tspan").text(") / ");
lab1.append("tspan").attr("font-style", "italic").text("J");

const lab2 = svg.append("text").attr("transform", "translate(30,221.6) rotate(-90)")
  .attr("text-anchor", "middle").attr("font-size", labelSize);
lab2.append("tspan").attr("font-style", "italic").text("M");
lab2.append("tspan").text("(");
lab2.append("tspan").attr("font-style", "italic").text("t");
lab2.append("tspan").text(")");

const lab3 = svg.append("text").attr("transform", "translate(38.5,367) rotate(-90)")
  .attr("text-anchor", "middle").attr("font-size", labelSize);
lab3.append("tspan").text("Var(");
lab3.append("tspan").attr("font-style", "italic").text("θ");
lab3.append("tspan").text(")");

svg.append("text").attr("x", 439).attr("y", 475).attr("text-anchor", "middle")
  .attr("font-size", labelSize).attr("font-style", "italic").text("Jt");

// legend: equilibrium
const leg1 = svg.append("g");
leg1.append("rect").attr("x", 549).attr("y", 20).attr("width", 241).attr("height", 33.3)
  .attr("rx", 3).attr("fill", "#fff").attr("fill-opacity", 0.8)
  .attr("stroke", "#ccc").attr("stroke-width", 1);
leg1.append("line").attr("x1", 557).attr("x2", 594).attr("y1", 36.5).attr("y2", 36.5)
  .attr("stroke", "#000").attr("stroke-width", 2.3).attr("stroke-dasharray", "8.5,3.7");
leg1.append("text").attr("x", 610).attr("y", 43).attr("font-size", labelSize).text("Equilibrium values");

// legend: quenches
const leg2 = svg.append("g");
leg2.append("rect").attr("x", 622.3).attr("y", 310.7).attr("width", 167.7).attr("height", 89.3)
  .attr("rx", 3).attr("fill", "#fff").attr("fill-opacity", 0.8)
  .attr("stroke", "#ccc").attr("stroke-width", 1);
quenchLabels.forEach((q, k) => {
  const ly = 325.7 + k * 27.65;
  leg2.append("line").attr("x1", 629.3).attr("x2", 668.3).attr("y1", ly).attr("y2", ly)
    .attr("stroke", colours[k]).attr("stroke-width", 2.5);
  const t = leg2.append("text").attr("x", 683.3).attr("y", ly + 6.5).attr("font-size", labelSize);
  t.append("tspan").attr("font-style", "italic").text("g");
  t.append("tspan").attr("dx", 3.5).text("=");
  t.append("tspan").attr("dx", 3.5).text("3");
  t.append("tspan").attr("dx", 3.5).text("→");
  t.append("tspan").attr("dx", 3.5).text(q);
});

// ---- right panel ----
const xr = d3.scaleLinear().domain([-1.1, 1.1]).range([893.3, 1337.3]);
const yr = d3.scaleLinear().domain([-1.1, 1.1]).range([433.3, 10.7]);
const gr = svg.append("g");

gr.append("g").attr("transform", "translate(0,433.3)")
  .call(d3.axisBottom(xr).tickValues(mxTicks).tickFormat(fmt1).tickSize(5).tickPadding(5))
  .call(styleAxis);
gr.append("g").attr("transform", "translate(893.3,0)")
  .call(d3.axisLeft(yr).tickValues(myTicks).tickFormat(fmt2).tickSize(5).tickPadding(4))
  .call(styleAxis);

svg.append("clipPath").attr("id", "clipR").append("rect")
  .attr("x", 893.3).attr("y", 10.7).attr("width", 444).attr("height", 422.6);
const pr = gr.append("g").attr("clip-path", "url(#clipR)");
const lineR = d3.line().x(d => xr(d[0])).y(d => yr(d[1]));

const orangePath = [].concat(orangeStart, orangeLoop, orangeRight, orangeRight2, orangeUpper,
  orangeColumns, orangeCentre, orangeCentre2, orangeCentre3, orangeLowerLeft, orangeLeft,
  orangeLeft2, orangeBottom, orangeLowerRight2, orangeLowerRight, orangeStrand);
pr.append("path").attr("d", lineR(orangePath)).attr("fill", "none")
  .attr("stroke", "#fdb955").attr("stroke-width", 1.5).attr("stroke-linejoin", "round");
pr.append("path").attr("d", lineR(trajPurple)).attr("fill", "none")
  .attr("stroke", "#9b32b6").attr("stroke-width", 2.6).attr("stroke-linejoin", "round");
pr.append("path").attr("d", lineR(trajBlue)).attr("fill", "none")
  .attr("stroke", "#0d0887").attr("stroke-width", 7.5).attr("stroke-linecap", "round")
  .attr("stroke-linejoin", "round");

// unit circle
pr.append("ellipse").attr("cx", xr(0)).attr("cy", yr(0))
  .attr("rx", xr(1) - xr(0)).attr("ry", yr(-1) - yr(0))
  .attr("fill", "none").attr("stroke", "#333").attr("stroke-width", 4)
  .attr("stroke-dasharray", "14.8,6.4");

gr.append("rect").attr("x", 893.3).attr("y", 10.7).attr("width", 444).attr("height", 422.6)
  .attr("fill", "none").attr("stroke", "#555").attr("stroke-width", 1.2);

const lx = svg.append("text").attr("x", 1115.8).attr("y", 474.5).attr("text-anchor", "middle")
  .attr("font-size", labelSize);
lx.append("tspan").attr("font-style", "italic").text("M");
lx.append("tspan").attr("font-style", "italic").attr("font-size", subSize).attr("dy", 3).text("x");

const ly = svg.append("text").attr("transform", "translate(830,222.7) rotate(-90)")
  .attr("text-anchor", "middle").attr("font-size", labelSize);
ly.append("tspan").attr("font-style", "italic").text("M");
ly.append("tspan").attr("font-style", "italic").attr("font-size", subSize).attr("dy", 4).text("y");
</script>
</body>
</html>
